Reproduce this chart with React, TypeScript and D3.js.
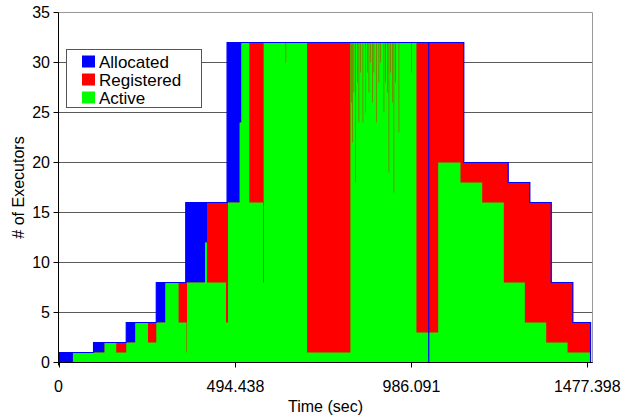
import React from "react";
import * as d3 from "d3";

// step series: [time (sec), executors]
const allocated: [number, number][] = [
  [0, 1], [97.9, 2], [189.3, 4], [273.2, 8], [355.5, 16], [471, 32],
  [1034.5, 0], [1034.5, 32], [1132.4, 20], [1256.5, 18], [1316.9, 16],
  [1376.7, 8], [1437.1, 4], [1486.6, 0], [1492, 0],
];

const registered: [number, number][] = [
  [0, 0], [40.3, 1], [128.6, 2], [214.4, 4], [298.4, 8], [409.3, 12],
  [414.9, 16], [506.1, 24], [510.8, 32], [1034.5, 0], [1034.5, 32],
  [1132.4, 20], [1256.5, 18], [1316.9, 16], [1376.7, 8], [1437.1, 4],
  [1486.6, 0], [1492, 0],
];

const active: [number, number][] = [
  [0, 0], [40.3, 1], [128.6, 2], [161.3, 1], [189.3, 2], [214.4, 4],
  [250.0, 2], [273.2, 4], [298.4, 8], [335.5, 4], [356.2, 1], [357.4, 4],
  [359.0, 8], [409.3, 12], [414.9, 8], [468.0, 4], [473.6, 16], [506.1, 24],
  [510.8, 32], [533.2, 16], [571.5, 8], [573.2, 32], [634.7, 30], [636.0, 32],
  [694.5, 1], [815.6, 32],
  // short drops of the active count
  [817.5, 26], [818.7, 32], [821.2, 22], [822.4, 32], [824.8, 27], [826.0, 32],
  [829.6, 18], [830.8, 32], [834.3, 28], [835.5, 32], [838.8, 24], [840.0, 32],
  [843.6, 29], [844.8, 32], [850.0, 24], [851.2, 32], [857.6, 25], [858.8, 32],
  [862.3, 29], [863.5, 32], [866.8, 27], [868.0, 32], [871.5, 30], [872.7, 32],
  [876.3, 26], [877.5, 32], [880.7, 29], [881.9, 32], [888.3, 24], [889.5, 32],
  [894.7, 28], [895.9, 32], [899.5, 30], [900.7, 32], [908.7, 25], [909.9, 32],
  [913.5, 28], [914.7, 32], [918.2, 27], [919.4, 32], [922.7, 19], [923.9, 32],
  [927.4, 29], [928.6, 32], [932.2, 26], [933.4, 32], [936.6, 17], [937.8, 32],
  [941.4, 28], [942.6, 32], [950.6, 23], [951.8, 32], [986.1, 29], [987.3, 32],
  [1000.1, 3], [1034.5, 0], [1034.5, 3], [1060.8, 20], [1123.1, 18],
  [1183.8, 16], [1244.2, 8], [1302.9, 4], [1362.7, 2], [1422.3, 1],
  [1486.6, 0], [1492, 0],
];

const timeTicks = [0, 494.438, 986.091, 1477.398];
const yTicks = [0, 5, 10, 15, 20, 25, 30, 35];
const seriesNames = ["Allocated", "Registered", "Active"];
const seriesColors = ["#0000ff", "#ff0000", "#00ff00"];

const font = "'Liberation Sans', Arial, sans-serif";

export default function App() {
  const W = 621;
  const H = 417;
  const left = 58.5, right = 592.5, top = 12.5, bottom = 362.5;

  const x = d3.scaleLinear().domain([0, 1492]).range([left, right]);
  const y = d3.scaleLinear().domain([0, 35]).range([bottom, top]);

  const area = d3
    .area<[number, number]>()
    .curve(d3.curveStepAfter)
    .x((d) => x(d[0]))
    .y0(y(0))
    .y1((d) => y(d[1]));

  const outline = d3
    .line<[number, number]>()
    .curve(d3.curveStepAfter)
    .x((d) => x(d[0]))
    .y((d) => y(d[1]));

  return (
    <div style={{ position: "absolute", left: 0, top: 0 }}>
      <svg width={W} height={H} style={{ display: "block", background: "#fff" }} fontFamily={font}>
        {/* gridlines */}
        {yTicks.filter((t) => t > 0 && t < 35).map((t) => (
          <line key={"g" + t} x1={left} x2={right} y1={y(t)} y2={y(t)} stroke="#5a5a5a" strokeWidth={1} />
        ))}
        {/* plot border */}
        <path d={`M${left},${top}H${right}V${bottom}`} fill="none" stroke="#999" strokeWidth={1} />

        {/* areas */}
        <path d={area(allocated) || ""} fill={seriesColors[0]} />
        <path d={area(registered) || ""} fill={seriesColors[1]} />
        <path d={area(active) || ""} fill={seriesColors[2]} />
        <path d={outline(allocated) || ""} fill="none" stroke="#0000ff" strokeWidth={1.2} />

        {/* y axis */}
        <line x1={left} x2={left} y1={top} y2={bottom + 3} stroke="#000" />
        {yTicks.map((t) => (
          <g key={"y" + t}>
            <line x1={left - 5} x2={left} y1={y(t)} y2={y(t)} stroke="#000" />
            <text x={50} y={y(t)} dy="0.36em" textAnchor="end" fontSize={16} fill="#000">
              {String(t)}
            </text>
          </g>
        ))}
        {/* x axis */}
        <line x1={left} x2={right} y1={bottom} y2={bottom} stroke="#000" />
        {timeTicks.map((t) => (
          <g key={"x" + t}>
            <line x1={Math.round(x(t)) + 0.5} x2={Math.round(x(t)) + 0.5} y1={bottom} y2={bottom + 5} stroke="#000" />
            <text x={x(t)} y={392} textAnchor="middle" fontSize={16} fill="#000">
              {String(t)}
            </text>
          </g>
        ))}

        {/* axis titles */}
        <text x={(left + right) / 2} y={412} textAnchor="middle" fontSize={16} fill="#000">
          Time (sec)
        </text>
        <text
          transform={`translate(23.5,${(top + bottom) / 2}) rotate(-90)`}
          textAnchor="middle"
          fontSize={16}
          fill="#000"
        >
          # of Executors
        </text>

        {/* legend */}
        <rect x={66.5} y={49.5} width={135} height={58} fill="#fff" stroke="#555" />
        {seriesNames.map((name, i) => (
          <g key={name}>
            <rect x={82} y={55.5 + i * 18} width={13} height={12} fill={seriesColors[i]} />
            <text x={99} y={67.5 + i * 18} fontSize={17} fill="#000">
              {name}
            </text>
          </g>
        ))}
      </svg>
    </div>
  );
}
